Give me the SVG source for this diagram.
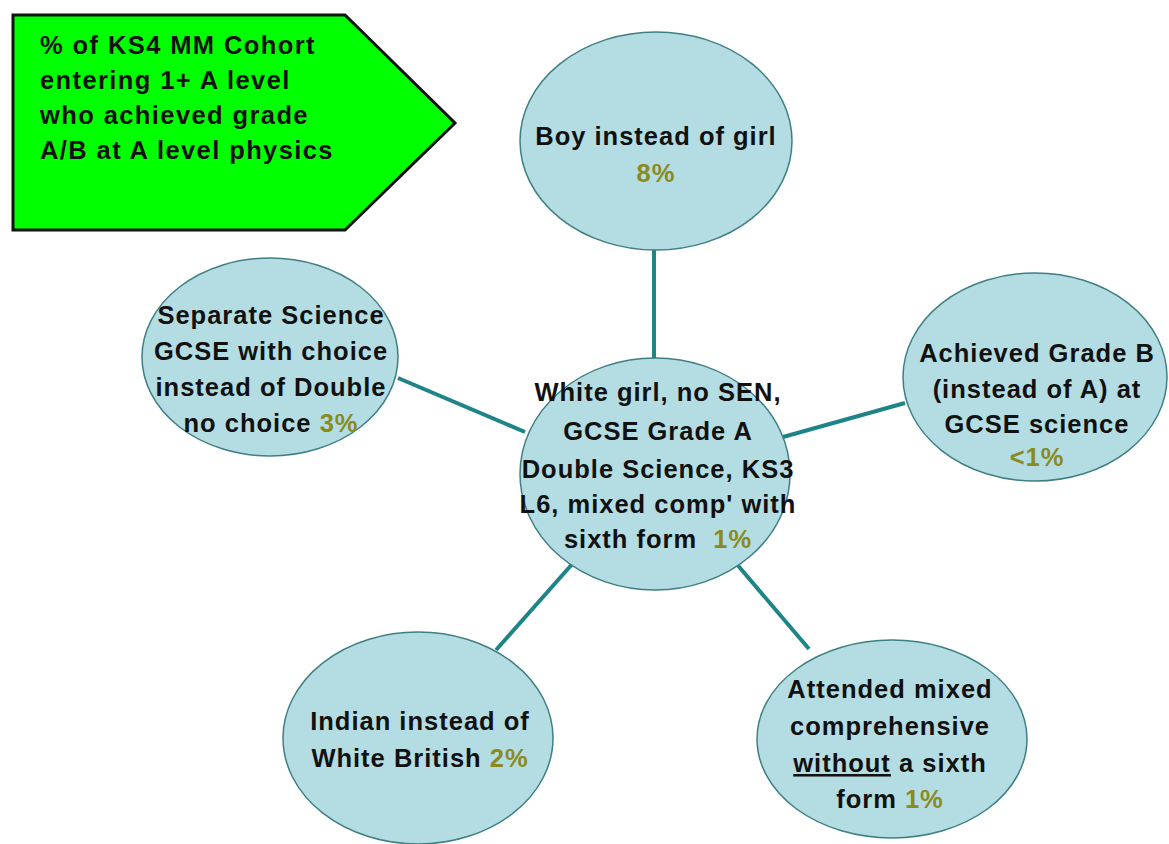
<svg xmlns="http://www.w3.org/2000/svg" width="1169" height="844" viewBox="0 0 1169 844">
<style>
.t{font-family:"Liberation Sans",Arial,sans-serif;font-weight:bold;font-size:25.5px;letter-spacing:1px;fill:#111;}
.m{text-anchor:middle;}
.p{fill:#8A8A1E;}
.n{fill:#B3DDE2;stroke:#3E7F82;stroke-width:1.5;}
.c{stroke:#1E8487;stroke-width:4;fill:none;}
</style>
<rect width="1169" height="844" fill="#fff"/>
<g id="connectors">
<line class="c" x1="654" y1="250" x2="654" y2="360"/>
<line class="c" x1="398" y1="378" x2="525" y2="432"/>
<line class="c" x1="783" y1="437" x2="905" y2="403"/>
<line class="c" x1="574" y1="562" x2="496" y2="650"/>
<line class="c" x1="735" y1="562" x2="809" y2="649"/>
</g>
<g id="title">
<polygon points="13,15 345,15 455,123 345,230 13,230" fill="#00FF00" stroke="#111" stroke-width="3"/>
<text class="t" x="40" y="54" style="letter-spacing:1.4px">% of KS4 MM Cohort</text>
<text class="t" x="40" y="89" style="letter-spacing:1.4px">entering 1+ A level</text>
<text class="t" x="40" y="124" style="letter-spacing:1.4px">who achieved grade</text>
<text class="t" x="40" y="159" style="letter-spacing:1.4px">A/B at A level physics</text>
</g>
<g id="boy">
<ellipse class="n" cx="656" cy="141" rx="136" ry="109"/>
<text class="t m" x="656" y="145">Boy instead of girl</text>
<text class="t m p" x="656" y="182">8%</text>
</g>
<g id="separate">
<ellipse class="n" cx="270" cy="357" rx="128" ry="99"/>
<text class="t m" x="271" y="324">Separate Science</text>
<text class="t m" x="271" y="360">GCSE with choice</text>
<text class="t m" x="271" y="396">instead of Double</text>
<text class="t m" x="271" y="432">no choice <tspan class="p">3%</tspan></text>
</g>
<g id="center">
<ellipse class="n" cx="655" cy="474" rx="135" ry="116"/>
<text class="t m" x="658" y="401">White girl, no SEN,</text>
<text class="t m" x="658" y="440">GCSE Grade A</text>
<text class="t m" x="658" y="478">Double Science, KS3</text>
<text class="t m" x="658" y="513">L6, mixed comp' with</text>
<text class="t m" x="658" y="548">sixth form <tspan class="p" dx="8">1%</tspan></text>
</g>
<g id="gradeb">
<ellipse class="n" cx="1035" cy="377" rx="132" ry="104"/>
<text class="t m" x="1037" y="362">Achieved Grade B</text>
<text class="t m" x="1037" y="398">(instead of A) at</text>
<text class="t m" x="1037" y="433">GCSE science</text>
<text class="t m p" x="1037" y="466">&lt;1%</text>
</g>
<g id="indian">
<ellipse class="n" cx="418" cy="738" rx="135" ry="106"/>
<text class="t m" x="420" y="730">Indian instead of</text>
<text class="t m" x="420" y="767">White British <tspan class="p">2%</tspan></text>
</g>
<g id="nosixth">
<ellipse class="n" cx="892" cy="739" rx="135" ry="99"/>
<text class="t m" x="890" y="698">Attended mixed</text>
<text class="t m" x="890" y="735">comprehensive</text>
<text class="t m" x="890" y="772"><tspan text-decoration="underline">without</tspan> a sixth</text>
<text class="t m" x="890" y="808">form <tspan class="p">1%</tspan></text>
</g>
</svg>
